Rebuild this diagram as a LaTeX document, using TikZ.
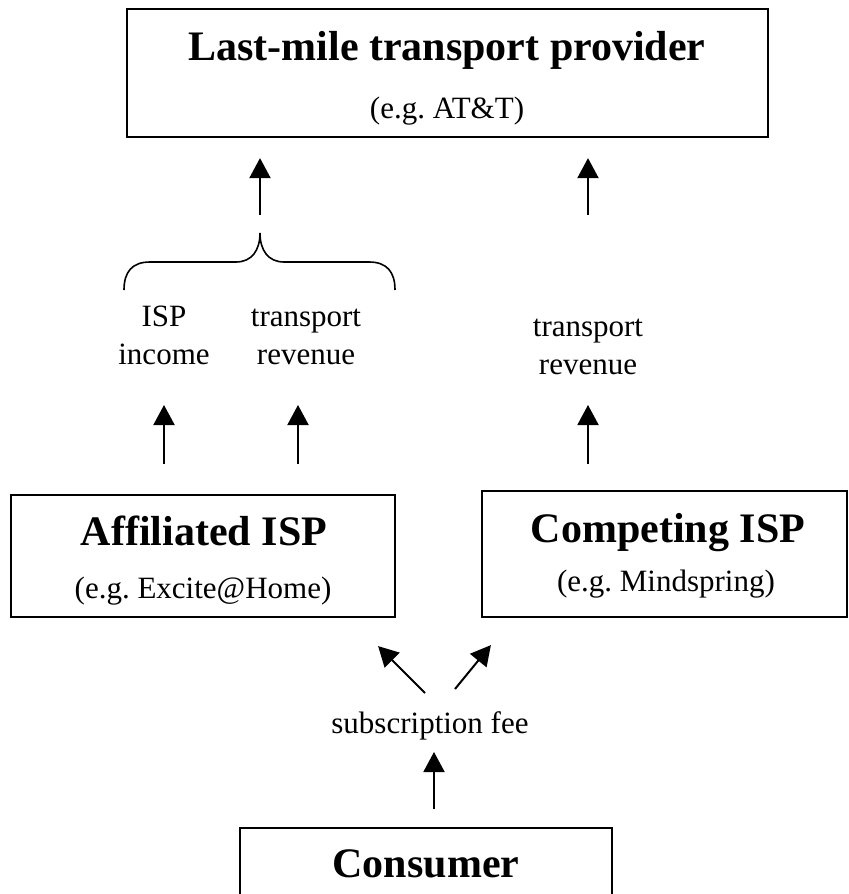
\documentclass[tikz,border=0pt]{standalone}
\usepackage{fontspec}
\setmainfont{Liberation Serif}
\usetikzlibrary{arrows.meta, calc}

\tikzset{
  box/.style={draw, line width=1.1pt, inner sep=0pt},
  headtext/.style={font=\fontsize{21}{25}\selectfont\bfseries, anchor=base, inner sep=0pt},
  subtext/.style={font=\fontsize{15.5}{19}\selectfont, anchor=base, inner sep=0pt, align=center},
  flow/.style={line width=1pt, -{Triangle[length=10pt, width=10.5pt]}},
  bracepath/.style={line width=0.8pt}
}

\begin{document}
\begin{tikzpicture}[x=0.5pt, y=-0.5pt]
    \useasboundingbox (0,0) rectangle (849,894);

    % Boxes
    \node[box, minimum width=320.5pt, minimum height=64pt] (lastmile) at (447.5, 73) {};
    \node[box, minimum width=192pt, minimum height=61pt] (affil) at (203, 556) {};
    \node[box, minimum width=182.5pt, minimum height=63pt] (compet) at (664.5, 554) {};
    \node[box, minimum width=186pt, minimum height=61pt] (consumer) at (426, 889) {};

    % Box texts
    \node[headtext] (lastmiletitle) at (447, 60) {Last-mile transport provider};
    \node[subtext] (lastmilesub) at (447, 118) {(e.g.\ AT\&T)};
    \node[headtext] (affiltitle) at (204, 545) {Affiliated ISP};
    \node[subtext] (affilsub) at (203, 598) {(e.g.\ Excite@Home)};
    \node[headtext] (compettitle) at (668, 542) {Competing ISP};
    \node[subtext] (competsub) at (666, 591) {(e.g.\ Mindspring)};
    \node[headtext] (consumertitle) at (426, 877) {Consumer};

    % Money labels (base = last line)
    \node[subtext] (ispincome) at (164, 364) {ISP\\income};
    \node[subtext] (affilrev) at (306, 364) {transport\\revenue};
    \node[subtext] (competrev) at (588, 374) {transport\\revenue};
    \node[subtext] (fee) at (430, 733) {subscription fee};

    % Brace over the affiliated revenues
    \coordinate (bracetip) at (260, 233);
    \draw[bracepath] (124, 290) .. controls (124, 272) and (132, 262) .. (150, 262)
        -- (236, 262) .. controls (252, 262) and (260, 250) .. (bracetip)
        .. controls (260, 250) and (268, 262) .. (284, 262)
        -- (369, 262) .. controls (387, 262) and (395, 272) .. (395, 290);

    % Flows up to the transport provider
    \draw[flow, shorten <=9pt, shorten >=10pt] (bracetip) -- (bracetip |- lastmile.south);
    \draw[flow, shorten <=79.5pt, shorten >=10pt] (competrev.base) -- (competrev.base |- lastmile.south);

    % Flows out of the ISPs
    \draw[flow, shorten <=15pt, shorten >=20.5pt] (ispincome.base |- affil.north) -- (ispincome.base);
    \draw[flow, shorten <=15pt, shorten >=20.5pt] ([xshift=-4pt]affilrev.base |- affil.north) -- ([xshift=-4pt]affilrev.base);
    \draw[flow, shorten <=13pt, shorten >=15.5pt] (competrev.base |- compet.north) -- (competrev.base);

    % Consumer pays
    \draw[flow] ($(fee.base)+(-5,-40)$) -- ($(affil.south east)+(-18,28)$);
    \draw[flow] ($(fee.base)+(25,-44)$) -- ($(compet.south west)+(10,27)$);
    \draw[flow, shorten <=9pt, shorten >=9.5pt] ([xshift=2pt]fee.base |- consumer.north) -- ([xshift=2pt]fee.base);
\end{tikzpicture}
\end{document}
